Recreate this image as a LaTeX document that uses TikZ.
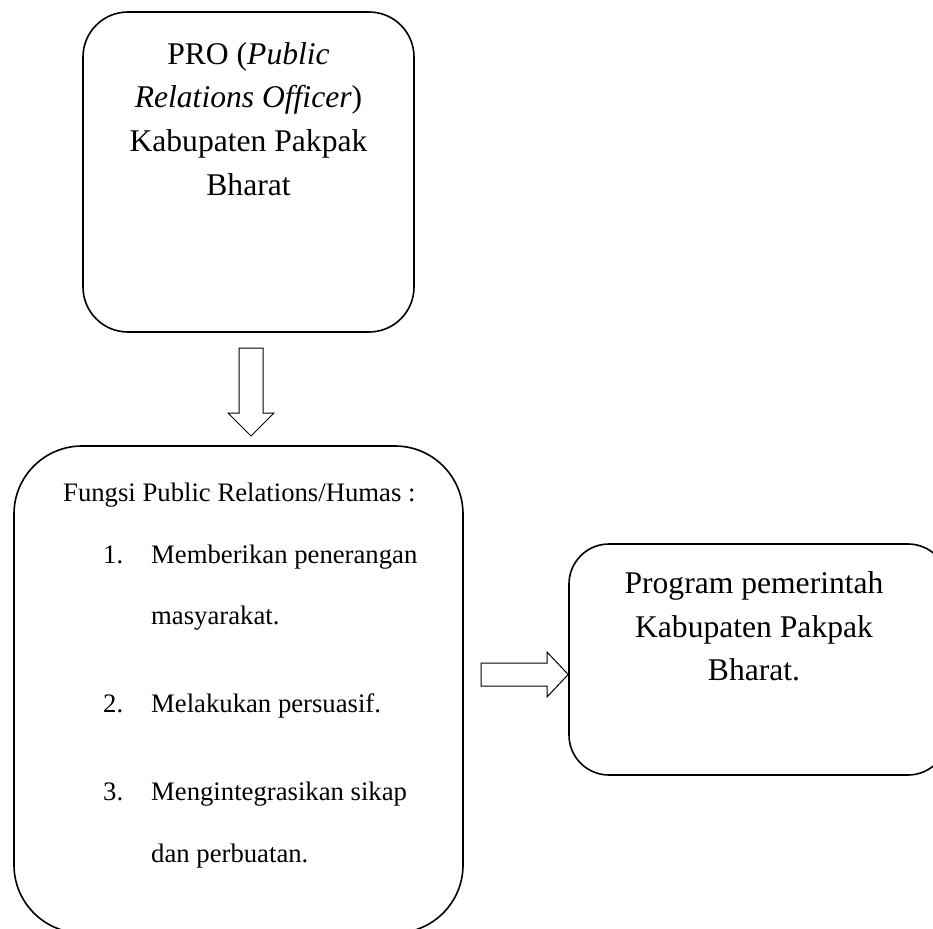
\documentclass[tikz,border=0pt]{standalone}
\usepackage{fontspec}
\setmainfont{Liberation Serif}
\tikzset{
  box/.style={draw, line width=1.6pt, inner sep=0pt},
  big/.style={font=\fontsize{31.6}{43}\selectfont, anchor=base, inner sep=0pt},
  small/.style={font=\fontsize{26.7}{36}\selectfont, anchor=base west, inner sep=0pt},
  blockarrow/.style={draw, line width=1pt, line join=miter},
}
\begin{document}
\begin{tikzpicture}[x=1pt,y=-1pt]
\clip (0,0) rectangle (933,928);
% boxes
\node[box, rounded corners=45pt, minimum width=331pt, minimum height=320pt] (pro) at (248.5,172) {};
\node[box, rounded corners=68pt, minimum width=449pt, minimum height=487pt] (fungsi) at (238.5,689.5) {};
\node[box, rounded corners=40pt, minimum width=379pt, minimum height=231pt] (prog) at (758.5,659.5) {};
% top box text
\node[big] (p1) at (248.5,65) {PRO (\textit{Public}};
\node[big] (p2) at (248.5,108) {\textit{Relations Officer})};
\node[big] (p3) at (248.5,152) {Kabupaten Pakpak};
\node[big] (p4) at (248.5,195) {Bharat};
% list box text
\node[small] (f0) at (63,501) {Fungsi Public Relations/Humas :};
\node[small] (n1) at (103,563) {1.};
\node[small] (t1) at (151,563) {Memberikan penerangan};
\node[small] (t1b) at (151,624) {masyarakat.};
\node[small] (n2) at (103,712) {2.};
\node[small] (t2) at (151,712) {Melakukan persuasif.};
\node[small] (n3) at (103,800) {3.};
\node[small] (t3) at (151,800) {Mengintegrasikan sikap};
\node[small] (t3b) at (151,862) {dan perbuatan.};
% right box text
\node[big] (r1) at (754,593) {Program pemerintah};
\node[big] (r2) at (754,637) {Kabupaten Pakpak};
\node[big] (r3) at (754,680) {Bharat.};
% block arrows
\coordinate (dtip) at (251,436);
\coordinate (rtip) at (prog.west |- 0,674.5);
\draw[blockarrow] (239,348) -- (263,348) -- (263,413) -- (274,413) -- (dtip)
  -- (228,413) -- (239,413) -- cycle;
\draw[blockarrow] (481,663) -- (547,663) -- (547,652) -- (rtip)
  -- (547,697) -- (547,686) -- (481,686) -- cycle;
\end{tikzpicture}
\end{document}
